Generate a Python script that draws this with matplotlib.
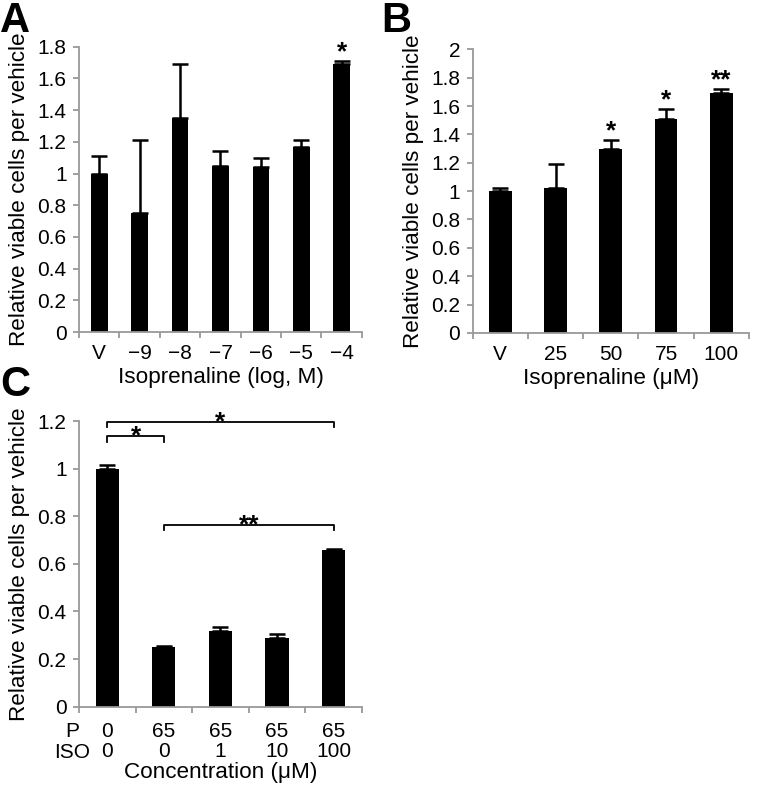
import matplotlib
matplotlib.use("Agg")
import matplotlib.pyplot as plt
import numpy as np

plt.rcParams["font.family"] = ["Liberation Sans", "DejaVu Sans"]

# panel A
a_labels = ["V", "\u22129", "\u22128", "\u22127", "\u22126", "\u22125", "\u22124"]
a_means = [1.00, 0.75, 1.35, 1.05, 1.04, 1.17, 1.69]
a_err = [0.11, 0.46, 0.34, 0.09, 0.06, 0.04, 0.02]
a_stars = ["", "", "", "", "", "", "*"]

# panel B
b_labels = ["V", "25", "50", "75", "100"]
b_means = [1.00, 1.02, 1.30, 1.51, 1.69]
b_err = [0.02, 0.17, 0.06, 0.07, 0.03]
b_stars = ["", "", "*", "*", "**"]

# panel C
c_p = ["0", "65", "65", "65", "65"]
c_iso = ["0", "0", "1", "10", "100"]
c_means = [1.00, 0.25, 0.32, 0.29, 0.66]
c_err = [0.015, 0.005, 0.015, 0.015, 0.002]
# (left bar, right bar, bracket height, label)
c_brackets = [(0, 1, 1.135, "*"), (0, 4, 1.197, "*"), (1, 4, 0.763, "**")]

GRAY = "#999999"
FS = 15
LFS = 16.2
SFS = 19


def bar_panel(ax, labels, means, err, ymax, ystep):
    x = np.arange(len(means))
    ax.bar(x, means, width=0.41, color="black", zorder=2)
    ax.errorbar(x, means, yerr=[np.zeros(len(err)), err], fmt="none",
                ecolor="black", elinewidth=1.8, capsize=5.5, capthick=1.8, zorder=3)
    ax.set_xlim(-0.5, len(means) - 0.5)
    ax.set_ylim(0, ymax)
    yt = np.arange(0, ymax + 1e-9, ystep)
    ax.set_yticks(yt)
    ax.set_yticklabels([f"{v:g}" for v in yt], fontsize=FS)
    ax.set_xticks(x)
    ax.set_xticklabels(labels, fontsize=FS)
    ax.set_xticks(np.arange(-0.5, len(means)), minor=True)
    ax.tick_params(axis="x", which="major", length=0, pad=8.5)
    ax.tick_params(axis="x", which="minor", length=4, color=GRAY, width=1.3)
    ax.tick_params(axis="y", length=4, color=GRAY, width=1.3, pad=5)
    for s in ["top", "right"]:
        ax.spines[s].set_visible(False)
    for s in ["left", "bottom"]:
        ax.spines[s].set_color(GRAY)
        ax.spines[s].set_linewidth(1.3)
    ax.set_ylabel("Relative viable cells per vehicle", fontsize=LFS, labelpad=5)
    return x


fig = plt.figure(figsize=(7.57, 7.89), dpi=100)

axA = fig.add_axes([0.1044, 0.5792, 0.3736, 0.3616])
x = bar_panel(axA, a_labels, a_means, a_err, 1.8, 0.2)
for xi, m, e, s in zip(x, a_means, a_err, a_stars):
    if s:
        axA.text(xi, m + e + 0.01, s, ha="center", va="baseline", fontsize=SFS, fontweight="bold")
axA.set_xlabel("Isoprenaline (log, M)", fontsize=LFS, labelpad=3)

axB = fig.add_axes([0.6244, 0.578, 0.3650, 0.3595])
x = bar_panel(axB, b_labels, b_means, b_err, 2.0, 0.2)
for xi, m, e, s in zip(x, b_means, b_err, b_stars):
    if s:
        axB.text(xi, m + e + 0.01, s, ha="center", va="baseline", fontsize=SFS, fontweight="bold")
axB.set_xlabel("Isoprenaline (\u03bcM)", fontsize=LFS, labelpad=3)

axC = fig.add_axes([0.1044, 0.1043, 0.3736, 0.3621])
c_labels = [f"{p}\n{i}" for p, i in zip(c_p, c_iso)]
x = bar_panel(axC, c_labels, c_means, c_err, 1.2, 0.2)
axC.tick_params(axis="x", which="major", pad=11)
for lab in axC.get_xticklabels():
    lab.set_linespacing(1.1)
axC.text(-0.023, -0.054, "P\nISO", transform=axC.transAxes, ha="center", va="top",
         fontsize=FS, linespacing=1.1)
for x0, x1, h, s in c_brackets:
    axC.plot([x0, x0, x1, x1], [h - 0.022, h, h, h - 0.022], color="black", lw=1.3,
             clip_on=False, zorder=4)
    axC.text((x0 + x1) / 2, h - 0.03, s, ha="center", va="baseline", fontsize=SFS,
             fontweight="bold")
axC.set_xlabel("Concentration (\u03bcM)", fontsize=LFS, labelpad=0.5)

fig.text(0.0, 0.999, "A", fontsize=30, fontweight="bold", va="top", ha="left")
fig.text(0.503, 0.999, "B", fontsize=30, fontweight="bold", va="top", ha="left")
fig.text(0.0, 0.537, "C", fontsize=30, fontweight="bold", va="top", ha="left")

fig.savefig("out.png", dpi=100)
